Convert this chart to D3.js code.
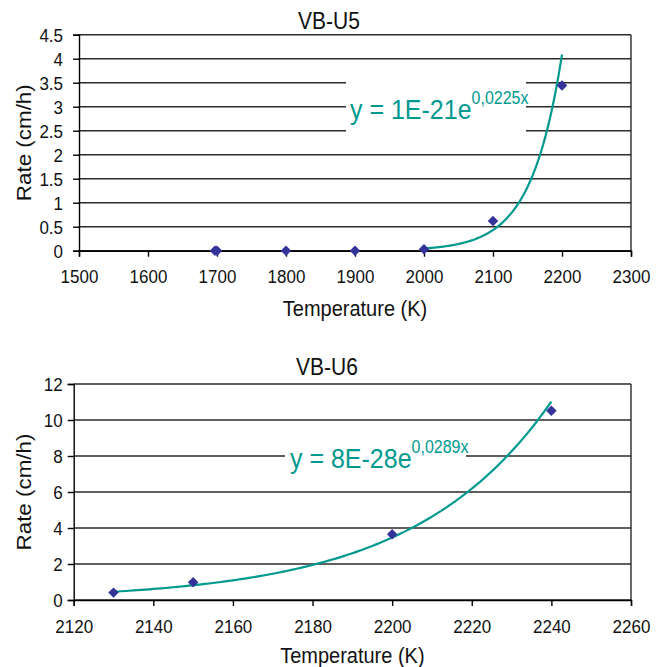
<!DOCTYPE html>
<html>
<head>
<meta charset="utf-8">
<script src="https://cdn.jsdelivr.net/npm/d3@7"></script>
<style>
  html, body { margin: 0; padding: 0; background: #fff; }
  svg { display: block; font-family: "Liberation Sans", Arial, sans-serif; }
</style>
</head>
<body>
<svg id="chart" width="665" height="667"></svg>
<script>
// VB-U5 measurements
const u5Temp = [1697, 1700, 1800, 1900, 2000, 2100, 2200];
const u5Rate = [0, 0, 0, 0, 0.03, 0.62, 3.44];
const u5XTicks = [1500, 1600, 1700, 1800, 1900, 2000, 2100, 2200, 2300];
const u5YTicks = [0, 0.5, 1, 1.5, 2, 2.5, 3, 3.5, 4, 4.5];
// exponential trend y = a * e^(b x)
const u5FitA = 1.3e-21;
const u5FitB = 0.0225;
const u5FitRange = [2000, 2200];

// VB-U6 measurements
const u6Temp = [2130, 2150, 2200, 2240];
const u6Rate = [0.41, 0.98, 3.65, 10.52];
const u6XTicks = [2120, 2140, 2160, 2180, 2200, 2220, 2240, 2260];
const u6YTicks = [0, 2, 4, 6, 8, 10, 12];
const u6FitA = 8.47e-28;
const u6FitB = 0.0289;
const u6FitRange = [2130, 2240];

const svg = d3.select("#chart");
const TEAL = "#00998f";
const MARK = "#333399";
const GRID = "#2a2a2a";
const SY = 1.12; // text is drawn slightly tall

const commaLocale = d3.formatLocale({decimal: ",", thousands: ".", grouping: [3], currency: ["", ""]});
const fmtCoef = v => d3.format(".0e")(v).toUpperCase();
const fmtRate = commaLocale.format(".4f");

// text anchored at (x, y) and stretched vertically around that point
function tallText(parent, x, y, size, str, anchor) {
  return parent.append("text")
    .attr("transform", `translate(${x},${y}) scale(1,${SY})`)
    .attr("text-anchor", anchor || "middle")
    .attr("font-size", size).attr("fill", "#111")
    .text(str);
}

function drawPanel(o) {
  const g = svg.append("g");
  const x = d3.scaleLinear().domain(o.xDomain).range([o.left, o.right]);
  const y = d3.scaleLinear().domain(o.yDomain).range([o.bottom, o.top]);

  // horizontal grid lines
  g.append("g").selectAll("line").data(o.yTicks).join("line")
    .attr("x1", o.left).attr("x2", o.right)
    .attr("y1", d => y(d)).attr("y2", d => y(d))
    .attr("stroke", GRID).attr("stroke-width", 1.4);

  // right frame edge
  g.append("line")
    .attr("x1", o.right).attr("x2", o.right)
    .attr("y1", o.top).attr("y2", o.bottom)
    .attr("stroke", GRID).attr("stroke-width", 1.4);

  // y axis
  const ya = g.append("g").attr("transform", `translate(${o.left},0)`)
    .call(d3.axisLeft(y).tickValues(o.yTicks).tickSize(6).tickPadding(o.yPad)
      .tickFormat(d => String(d)));
  ya.selectAll(".tick text")
    .attr("x", null).attr("dy", "0.35em")
    .attr("transform", `translate(${-6 - o.yPad},0) scale(1,${SY})`);

  // x axis
  const xa = g.append("g").attr("transform", `translate(0,${o.bottom})`)
    .call(d3.axisBottom(x).tickValues(o.xTicks).tickSize(6)
      .tickFormat(d3.format("d")));
  xa.selectAll(".tick text")
    .attr("y", null).attr("dy", "0.35em")
    .attr("transform", `translate(0,26) scale(1,${SY})`);

  [ya, xa].forEach(a => {
    a.select(".domain").attr("stroke", "#000").attr("stroke-width", 1.4);
    a.selectAll(".tick line").attr("stroke", "#000").attr("stroke-width", 1.4);
    a.selectAll(".tick text").attr("font-size", 17).attr("fill", "#111")
      .attr("font-family", "Liberation Sans, Arial, sans-serif");
  });

  // equation label box
  g.append("rect")
    .attr("x", o.eqBox[0]).attr("y", o.eqBox[1])
    .attr("width", o.eqBox[2]).attr("height", o.eqBox[3])
    .attr("fill", "#fff");

  // trend line
  const xs = d3.range(o.fitRange[0], o.fitRange[1] + 0.01, 1);
  g.append("path")
    .datum(xs)
    .attr("fill", "none").attr("stroke", TEAL).attr("stroke-width", 2.2)
    .attr("d", d3.line().x(d => x(d)).y(d => y(o.fitA * Math.exp(o.fitB * d))));

  // data markers
  const sym = d3.symbol().type(d3.symbolDiamond2).size(70);
  g.append("g").selectAll("path").data(o.temps.map((t, i) => [t, o.rates[i]])).join("path")
    .attr("transform", d => `translate(${x(d[0])},${y(d[1])})`)
    .attr("d", sym).attr("fill", MARK);

  // equation text
  const eq = g.append("text")
    .attr("transform", `translate(${o.eqText[0]},${o.eqText[1]}) scale(1,${SY})`)
    .attr("fill", TEAL).attr("font-size", 25);
  eq.append("tspan").text(`y = ${fmtCoef(o.fitA)}e`);
  eq.append("tspan").attr("dy", -13).attr("font-size", 16).text(`${fmtRate(o.fitB)}x`);

  // titles
  tallText(g, o.titleX, o.titleY, 21, o.title);
  tallText(g, (o.left + o.right) / 2, o.xTitleY, 20, "Temperature (K)");
  g.append("text")
    .attr("transform", `translate(${o.yTitleX},${(o.top + o.bottom) / 2}) rotate(-90) scale(${SY},1)`)
    .attr("text-anchor", "middle").attr("font-size", 20).attr("fill", "#111")
    .text("Rate (cm/h)");
}

drawPanel({
  title: "VB-U5", titleX: 329, titleY: 29,
  left: 79, right: 631, top: 34.7, bottom: 250.7, yPad: 10,
  xDomain: [1500, 2300], yDomain: [0, 4.5],
  xTicks: u5XTicks, yTicks: u5YTicks,
  temps: u5Temp, rates: u5Rate,
  fitA: u5FitA, fitB: u5FitB, fitRange: u5FitRange,
  eqBox: [346, 80, 180, 53], eqText: [350, 119],
  xTitleY: 316, yTitleX: 31
});

drawPanel({
  title: "VB-U6", titleX: 327, titleY: 375,
  left: 73.7, right: 631, top: 384, bottom: 600, yPad: 5,
  xDomain: [2120, 2260], yDomain: [0, 12],
  xTicks: u6XTicks, yTicks: u6YTicks,
  temps: u6Temp, rates: u6Rate,
  fitA: u6FitA, fitB: u6FitB, fitRange: u6FitRange,
  eqBox: [285, 436, 181, 40], eqText: [290, 468],
  xTitleY: 663, yTitleX: 31
});
</script>
</body>
</html>
